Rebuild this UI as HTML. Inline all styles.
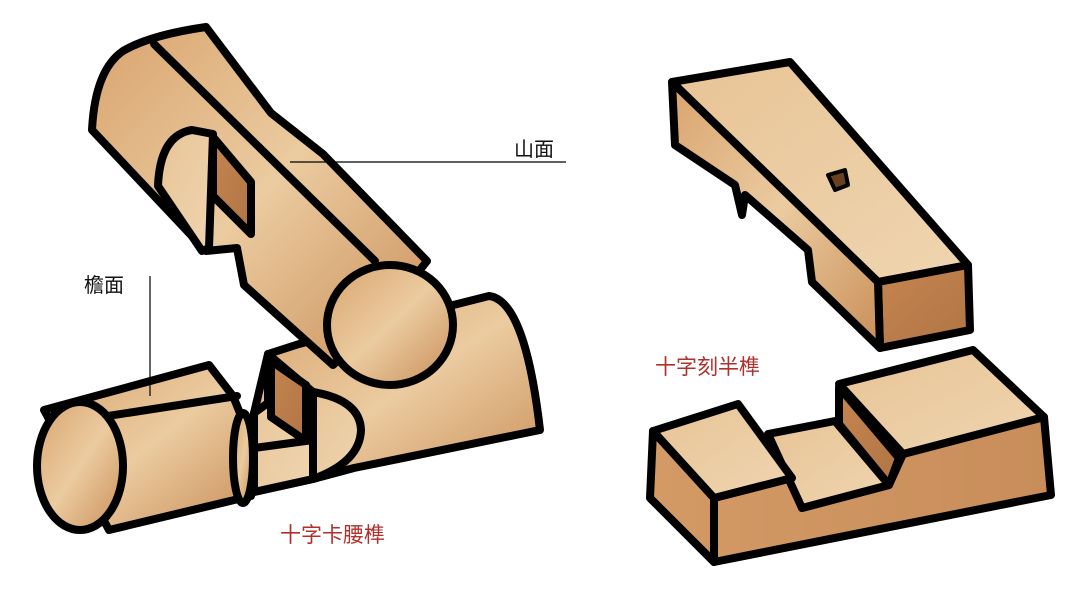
<!DOCTYPE html>
<html><head><meta charset="utf-8"><style>
html,body{margin:0;padding:0;background:#fff;width:1068px;height:600px;overflow:hidden}
svg{display:block}
text{font-family:"Liberation Sans","Noto Sans CJK SC",sans-serif}
</style></head><body>
<svg width="1068" height="600" viewBox="0 0 1068 600">
<defs>
<linearGradient id="w" x1="0" y1="0" x2="1" y2="1">
<stop offset="0" stop-color="#d9a46e"/><stop offset=".5" stop-color="#ebcba0"/><stop offset="1" stop-color="#c98e58"/>
</linearGradient>
<linearGradient id="d" x1="0" y1="0" x2="1" y2="1">
<stop offset="0" stop-color="#c58550"/><stop offset="1" stop-color="#b07444"/>
</linearGradient>
<linearGradient id="f" x1="0" y1="0" x2="1" y2="0">
<stop offset="0" stop-color="#d49a66"/><stop offset="1" stop-color="#c88d5a"/>
</linearGradient>
<linearGradient id="l" x1="0" y1="0" x2="1" y2="1">
<stop offset="0" stop-color="#e8c496"/><stop offset="1" stop-color="#efd5b0"/>
</linearGradient>
</defs>
<g stroke="#000" stroke-width="8" stroke-linejoin="round" stroke-linecap="round">
<!-- lower log right part -->
<path d="M268,354 L299,344 L489,296 Q525,300 540,430 L354,468 L313,479 L254,492 L254,413 Z" fill="url(#w)"/>
<path d="M268,354 L268,403 L254,413 L254,492 L313,479 L313,392 Z" fill="url(#l)"/>
<path d="M271,361 L306,385 L306,441 L271,417 Z" fill="url(#d)"/>
<path d="M254,448 L313,440" fill="none"/>
<path d="M313,392 Q360,400 361,430 Q360,462 313,479 Z" fill="url(#l)"/>
<!-- left block -->
<path d="M44,410 L209,365 L233,396 L244,423 L251,496 L109,530 Z" fill="url(#w)"/>
<path d="M82,420 L237,396" fill="none"/>
<ellipse cx="243" cy="458" rx="10" ry="45" fill="url(#w)"/>
<ellipse cx="80" cy="466" rx="43" ry="64" fill="url(#w)"/>
<!-- upper log -->
<path d="M123,51 Q150,35 206,27 L271,113 L323,154 L427,261 L380,320 L333,365 L244,285 L237,248 L206,251 L92,130 Q95,70 123,51 Z" fill="url(#w)"/>
<path d="M154,44 L375,261" fill="none"/>
<path d="M158,186 Q160,135 192,130 L213,134 L209,248 L202,251 Z" fill="url(#l)"/>
<path d="M213,137 L251,182 L251,234 L213,196 Z" fill="url(#d)"/>
<ellipse cx="390" cy="325" rx="63" ry="60" fill="url(#w)"/>
<!-- right top beam -->
<path d="M672,82 L790,62 L968,265 L878,282 Z" fill="url(#l)"/>
<path d="M878,282 L968,265 L970,330 L880,348 Z" fill="url(#d)"/>
<path d="M672,82 L878,282 L880,348 L812,282 L808,250 L745,195 L742,215 L735,185 L675,145 Z" fill="url(#w)"/>
<path d="M828,175 L845,170 L848,185 L835,190 Z" fill="#6b4020" stroke-width="4"/>
<!-- right bottom beam -->
<path d="M653,431 L650,498 L714,562 L1051,495 L1044,417 L903,454 L889,485 L802,508 L792,478 L714,498 Z" fill="url(#f)"/>
<path d="M714,498 L714,562" fill="none"/>
<path d="M839,387 L899,458 L889,485 L839,424 Z" fill="url(#d)"/>
<path d="M768,434 L835,421 L889,485 L802,508 Z" fill="url(#l)"/>
<path d="M653,431 L738,404 L792,478 L714,498 Z" fill="url(#l)"/>
<path d="M839,384 L973,350 L1044,417 L903,454 Z" fill="url(#l)"/>
</g>
<g stroke="#000" stroke-width="1.2">
<line x1="290" y1="162" x2="566" y2="162"/>
<line x1="150" y1="276" x2="150" y2="396"/>
</g>
<text x="514" y="156" font-size="20" fill="#111">山面</text>
<text x="84" y="292" font-size="20" fill="#111">檐面</text>
<text x="280" y="542" font-size="21" fill="#b0302c">十字卡腰榫</text>
<text x="655" y="374" font-size="21" fill="#b0302c">十字刻半榫</text>
</svg>
</body></html>
